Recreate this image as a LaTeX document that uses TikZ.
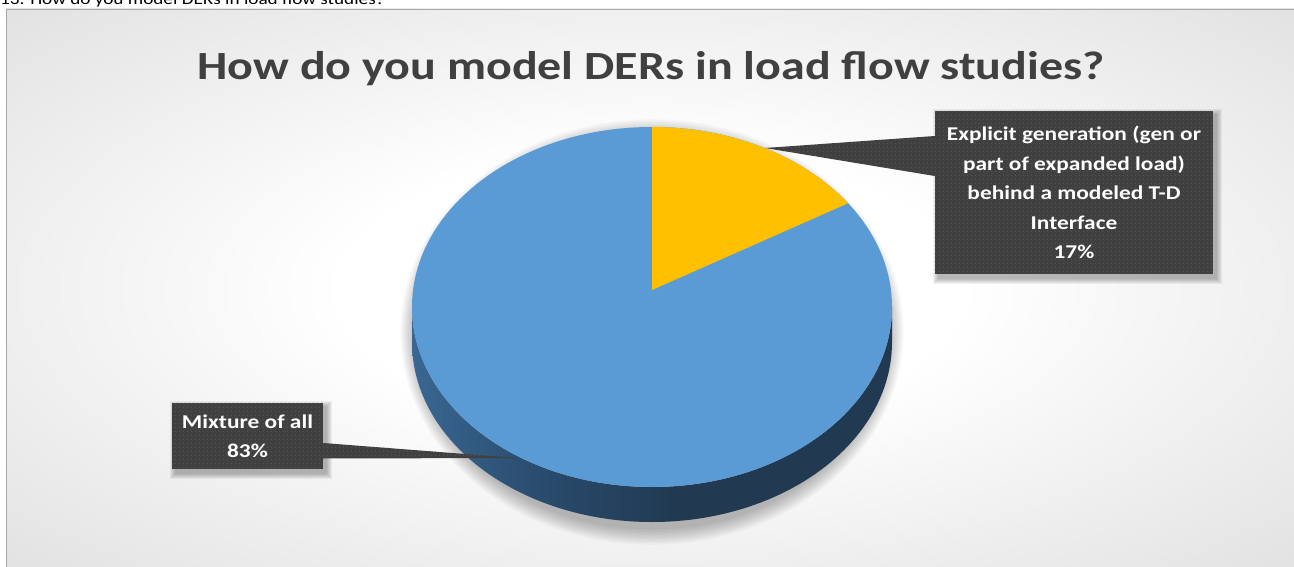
\documentclass[tikz,border=0pt]{standalone}
\usepackage{fontspec}
\setmainfont{Carlito}[FakeStretch=1.2]
\usetikzlibrary{calc,patterns.meta}
\definecolor{bluetop}{HTML}{5B9BD5}
\definecolor{yel}{HTML}{FFC000}
\definecolor{sideA}{HTML}{3D6D9B}
\definecolor{sideB}{HTML}{2A4C6E}
\definecolor{sideC}{HTML}{213A52}
\definecolor{callout}{HTML}{404040}
\definecolor{dotc}{HTML}{5C5C5C}
\definecolor{titlec}{HTML}{404040}
\definecolor{bgmid}{HTML}{D0D0D0}
\definecolor{bgout}{HTML}{BABABA}
\definecolor{framec}{HTML}{A8A8A8}
\pgfdeclareradialshading{bgshade}{\pgfpoint{0bp}{0bp}}{color(0bp)=(white); color(12bp)=(white); color(50bp)=(bgmid); color(71bp)=(bgout); color(80bp)=(bgout)}
\pgfdeclarehorizontalshading{sideshade}{100bp}{color(0bp)=(sideA); color(22bp)=(sideA); color(38bp)=(sideB); color(52bp)=(sideC); color(100bp)=(sideC)}
\tikzset{
  callbox/.style={preaction={fill=callout}, pattern={Dots[distance=4pt,radius=0.6pt]}, pattern color=dotc, inner sep=0pt, align=center, text=white, font=\bfseries\fontsize{19.5}{29.5}\selectfont},
  leader/.style={preaction={fill=callout}, pattern={Dots[distance=4pt,radius=0.6pt]}, pattern color=dotc},
  titletext/.style={text=titlec, font=\bfseries\fontsize{40}{48}\selectfont, inner sep=0pt},
}
\begin{document}
\begin{tikzpicture}[x=1pt,y=-1pt]
\useasboundingbox (0,0) rectangle (1294,567);
\clip (0,0) rectangle (1294,567);
\fill[white] (0,0) rectangle (1294,567);
% question line (cut off at top)
\node[anchor=base west, inner sep=0pt, font=\fontsize{16}{20}\selectfont] (q) at (0,4.5) {13. How do you model DERs in load flow studies?};
% chart area
\path[shading=bgshade] (6,9) rectangle (1296,569);
\draw[framec, line width=0.8pt] (6,569) -- (6,9) -- (1296,9);
% title
\node[titletext, anchor=base] (title) at (651,80) {How do you model DERs in load flow studies?};
% pie shadow
\foreach \i in {1,...,12}{
  \fill[black, opacity=0.022] (652,332) ellipse[x radius={236+1.3*\i}, y radius={196+1.4*\i}];
}
% pie side
\path[shading=sideshade] (412,307) arc[start angle=-180, end angle=-360, x radius=240, y radius=180] -- (892,342) arc[start angle=0, end angle=180, x radius=240, y radius=180] -- cycle;
% pie top
\fill[bluetop] (652,307) ellipse[x radius=240, y radius=180];
\fill[yel] (652,290) -- (652,127) arc[start angle=-90, end angle=-35.2, x radius=240, y radius=180] -- cycle;
% callout shadows
\foreach \i in {1,...,6}{
  \fill[black, opacity=0.05] ({935+4-\i},{111+4-\i}) rectangle ({1213+3+\i},{274+4+\i});
  \fill[black, opacity=0.05] ({172+4-\i},{403+4-\i}) rectangle ({323+3+\i},{469+4+\i});
}
% callout boxes
\node[callbox, minimum width=278, minimum height=163] (box1) at (1074,192.5) {Explicit generation (gen or\\part of expanded load)\\behind a modeled T-D\\Interface\\17\%};
\node[callbox, minimum width=151, minimum height=66] (box2) at (247.5,436) {Mixture of all\\83\%};
\coordinate (tip1) at (765,148);
\coordinate (tip2) at (517,458);
\path[leader] (tip1) -- (box1.west |- 0,136) -- (box1.west |- 0,176) -- cycle;
\path[leader] (tip2) -- (box2.east |- 0,443) -- (box2.east |- 0,458.5) -- cycle;
\end{tikzpicture}
\end{document}
